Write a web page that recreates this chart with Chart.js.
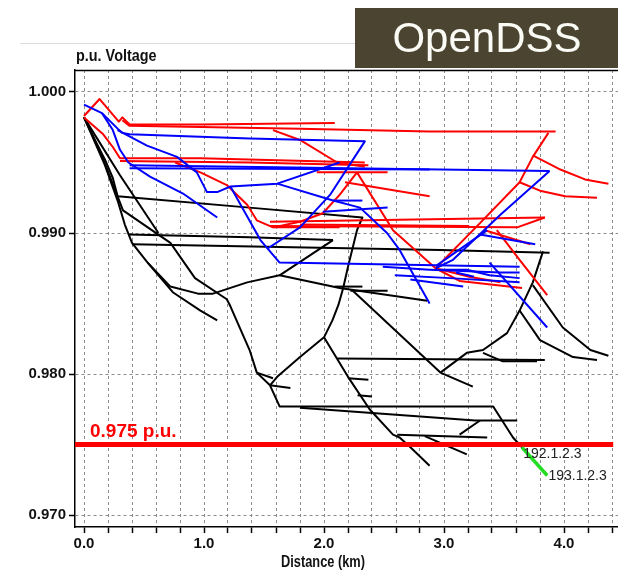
<!DOCTYPE html>
<html>
<head>
<meta charset="utf-8">
<script src="https://cdn.jsdelivr.net/npm/chart.js@4.4.0/dist/chart.umd.min.js"></script>
<style>
  html, body { margin: 0; padding: 0; background: #ffffff; }
  canvas { display: block; }
</style>
</head>
<body>
<canvas id="profile" width="618" height="570"></canvas>
<script>
// Feeder voltage profile: each section is a polyline of [distance km, voltage p.u.]

// Axis ranges and ticks
const xRange = [-0.075, 4.45];
const yRange = [0.96915, 1.00156];
const xTicks = [0, 0.2, 0.4, 0.6, 0.8, 1.0, 1.2, 1.4, 1.6, 1.8, 2.0, 2.2, 2.4, 2.6, 2.8, 3.0, 3.2, 3.4, 3.6, 3.8, 4.0, 4.2, 4.4];
const yTicks = [0.970, 0.980, 0.990, 1.000];

// Lower voltage limit
const limitValue = 0.975;
const limitSpan = [-0.075, 4.41];
const limitText = '0.975 p.u.';

// Phase 1 sections (black)
const phase1Sections = [
  [[0,0.9982],[0.09,0.9966],[0.175,0.9952],[0.24,0.9939],[0.28,0.9926],[1.38,0.9918],[2.32,0.9911],[2.275,0.9902],[2.20,0.9876],[2.16,0.9861],[2.12,0.9849],[2.07,0.9838],[2.00,0.9826]],
  [[2.00,0.9826],[1.80,0.9812],[1.61,0.9798],[1.55,0.9792]],
  [[2.00,0.9826],[2.20,0.9798],[2.38,0.9775],[2.575,0.9757],[2.63,0.9755],[2.72,0.9748],[2.88,0.9735]],
  [[0,0.9982],[0.13,0.9959],[0.325,0.9916],[0.72,0.9893],[0.925,0.9868],[1.19,0.9853],[1.22,0.9848],[1.38,0.9817],[1.44,0.9801],[1.55,0.9792],[1.63,0.9777],[3.41,0.9777],[3.575,0.9755],[3.65,0.9748]],
  [[0,0.9982],[0.30,0.9941],[0.62,0.9900]],
  [[0,0.9982],[0.175,0.9948],[0.28,0.9923],[0.34,0.9906],[0.40,0.9893],[0.53,0.9879],[0.72,0.9862],[0.95,0.9857],[1.075,0.9857],[1.36,0.9865],[1.63,0.9870],[2.075,0.9895]],
  [[0.53,0.9879],[0.74,0.9858],[0.97,0.9845],[1.11,0.9838]],
  [[0.37,0.9899],[1.38,0.9897],[2.075,0.9895]],
  [[0.40,0.9892],[2.97,0.9888],[3.88,0.9886]],
  [[1.63,0.9870],[2.13,0.9861],[2.86,0.9852]],
  [[2.24,0.9859],[2.97,0.9801],[3.24,0.9791]],
  [[2.09,0.9862],[2.32,0.9862]],
  [[2.22,0.9859],[2.53,0.9859]],
  [[2.11,0.9811],[3.84,0.9810]],
  [[2.97,0.9801],[3.19,0.9815],[3.325,0.9817],[3.525,0.9829],[3.63,0.9845],[3.74,0.9865],[3.825,0.9887]],
  [[3.74,0.9863],[3.99,0.9833],[4.22,0.9817],[4.37,0.9813]],
  [[3.63,0.9845],[3.80,0.9824],[4.075,0.9812],[4.275,0.9810]],
  [[3.325,0.9815],[3.49,0.9809],[3.775,0.9809]],
  [[2.20,0.9797],[2.37,0.9796]],
  [[2.28,0.9785],[2.40,0.9784]],
  [[1.44,0.9801],[1.575,0.9797]],
  [[1.55,0.9792],[1.72,0.9790]],
  [[1.80,0.9776],[3.26,0.9767],[3.61,0.9767]],
  [[2.61,0.9757],[3.36,0.9755]],
  [[3.13,0.9757],[3.30,0.9767]],
  [[2.84,0.9756],[3.19,0.9743]]
];

// Phase 2 sections (red)
const phase2Sections = [
  [[0,0.9983],[0.13,0.9995],[0.29,0.9979],[0.32,0.9982],[0.38,0.9977],[0.97,0.9977],[2.09,0.9978]],
  [[0.32,0.9980],[0.38,0.9976],[1.80,0.9974],[2.88,0.9972],[3.88,0.9972],[3.93,0.9972]],
  [[1.575,0.9973],[1.80,0.9966],[2.11,0.9950],[2.34,0.9947]],
  [[0,0.9982],[0.16,0.9970],[0.24,0.9961],[0.30,0.9953],[0.97,0.9953],[2.34,0.9950]],
  [[0.30,0.9951],[1.38,0.9950],[2.37,0.9948]],
  [[0.76,0.9950],[0.97,0.9943],[1.19,0.9934],[1.36,0.9920],[1.44,0.9909],[1.575,0.9904],[2.13,0.9904]],
  [[1.575,0.9904],[1.80,0.9908],[1.99,0.9914],[2.13,0.9927],[2.275,0.9943]],
  [[2.275,0.9943],[2.575,0.9902],[2.93,0.9875],[3.13,0.9866],[3.65,0.9861]],
  [[3.87,0.9971],[3.74,0.9954],[3.63,0.9936],[3.30,0.9907],[2.93,0.9875]],
  [[3.74,0.9955],[3.97,0.9945],[4.175,0.9938],[4.37,0.9935]],
  [[3.63,0.9936],[3.80,0.9930],[4.01,0.9926],[4.275,0.9925]],
  [[2.175,0.9936],[2.88,0.9926]],
  [[1.94,0.9943],[2.53,0.9943]],
  [[1.55,0.9908],[3.84,0.9911]],
  [[1.55,0.9905],[3.61,0.9904],[3.84,0.9911]],
  [[1.80,0.9906],[3.21,0.9905]],
  [[3.34,0.9902],[3.72,0.9892]],
  [[3.44,0.9902],[3.63,0.9881],[3.86,0.9856]],
  [[2.93,0.9875],[3.21,0.9869],[3.47,0.9865]]
];

// Phase 3 sections (blue)
const phase3Sections = [
  [[0,0.9991],[0.15,0.9985],[0.28,0.9974],[0.32,0.9971],[0.38,0.9970],[1.38,0.9967],[2.34,0.9965],[2.05,0.9927],[1.80,0.9904],[1.53,0.9889]],
  [[0.15,0.9985],[0.24,0.9973],[0.30,0.9959],[0.37,0.9950],[0.55,0.9940],[0.825,0.9928],[1.11,0.9911]],
  [[0.28,0.9973],[0.525,0.9962],[0.775,0.9954],[0.94,0.9943],[1.025,0.9929],[1.11,0.9929],[1.22,0.9933],[1.61,0.9935],[2.13,0.9950]],
  [[1.61,0.9935],[2.075,0.9923],[2.30,0.9918],[2.525,0.9900],[2.63,0.9888],[2.88,0.9850]],
  [[1.22,0.9933],[1.47,0.9895],[1.63,0.9879],[3.63,0.9876]],
  [[0.38,0.9948],[3.88,0.9944]],
  [[0.38,0.9946],[2.88,0.9945]],
  [[3.88,0.9944],[3.47,0.9913],[3.075,0.9881],[2.93,0.9875]],
  [[1.99,0.9915],[2.53,0.9918]],
  [[2.075,0.9923],[2.32,0.9923]],
  [[2.49,0.9876],[2.88,0.9874],[3.47,0.9872],[3.63,0.9872]],
  [[2.59,0.9870],[3.05,0.9868],[3.63,0.9865]],
  [[2.72,0.9867],[3.16,0.9862]],
  [[2.97,0.9874],[3.19,0.9874],[3.38,0.9870],[3.63,0.9868]],
  [[3.10,0.9872],[3.25,0.9869]],
  [[3.36,0.9902],[2.94,0.9877]],
  [[3.30,0.9899],[3.76,0.9892]],
  [[3.38,0.9879],[3.86,0.9833]]
];

// Highlighted section and its bus names
const highlightSection = [[3.65,0.9748],[3.86,0.9728]];
const busNames = ['192.1.2.3', '193.1.2.3'];
const busPoints = [[3.66,0.97435],[3.87,0.97275]];

const sansFamily = "'Liberation Sans', Arial, sans-serif";

function section(points, color, width, order) {
  return {
    data: points.map(p => ({ x: p[0], y: p[1] })),
    borderColor: color,
    backgroundColor: color,
    borderWidth: width,
    borderJoinStyle: 'round',
    showLine: true,
    pointRadius: 0,
    fill: false,
    order: order
  };
}

const datasets = [];
phase1Sections.forEach(s => datasets.push(section(s, '#000000', 2, 5)));
phase2Sections.forEach(s => datasets.push(section(s, '#ff0000', 2, 4)));
phase3Sections.forEach(s => datasets.push(section(s, '#0000ff', 2, 3)));
datasets.push(section([[limitSpan[0], limitValue], [limitSpan[1], limitValue]], '#ff0000', 5, 2));
datasets.push(section(highlightSection, '#22dd22', 3.5, 1));

// text squeezed horizontally, like a narrow face
function narrowText(ctx, text, x, y, squeeze, align) {
  ctx.save();
  ctx.translate(x, y);
  ctx.scale(squeeze, 1);
  ctx.textAlign = align;
  ctx.fillText(text, 0, 0);
  ctx.restore();
}

const decorations = {
  id: 'decorations',
  beforeDraw(chart) {
    const ctx = chart.ctx;
    ctx.save();
    ctx.fillStyle = '#ffffff';
    ctx.fillRect(0, 0, chart.width, chart.height);
    // thin rule under the header
    ctx.strokeStyle = '#dcdcdc';
    ctx.lineWidth = 1;
    ctx.beginPath();
    ctx.moveTo(20, 43.5);
    ctx.lineTo(355, 43.5);
    ctx.stroke();
    // header badge
    ctx.fillStyle = '#4b4430';
    ctx.fillRect(355, 8, 263, 60);
    ctx.fillStyle = '#fbfbf6';
    ctx.font = '42px ' + sansFamily;
    ctx.textAlign = 'center';
    ctx.textBaseline = 'middle';
    ctx.fillText('OpenDSS', 487, 40);
    ctx.restore();
  },
  afterDraw(chart) {
    const ctx = chart.ctx;
    const area = chart.chartArea;
    const xs = chart.scales.x;
    const ys = chart.scales.y;
    ctx.save();
    // top edge of the plot frame
    ctx.strokeStyle = '#000000';
    ctx.lineWidth = 1.5;
    ctx.beginPath();
    ctx.moveTo(area.left, area.top + 0.5);
    ctx.lineTo(area.right, area.top + 0.5);
    ctx.stroke();
    // axis titles
    ctx.fillStyle = '#111111';
    ctx.textBaseline = 'middle';
    ctx.font = 'bold 16px ' + sansFamily;
    narrowText(ctx, 'p.u. Voltage', area.left + 1, 57, 0.9, 'left');
    ctx.font = 'bold 16px ' + sansFamily;
    narrowText(ctx, 'Distance (km)', 323, 563, 0.8, 'center');
    // limit label
    const yLim = ys.getPixelForValue(limitValue);
    ctx.fillStyle = '#ff0000';
    ctx.font = 'bold 19px ' + sansFamily;
    ctx.textAlign = 'left';
    ctx.textBaseline = 'alphabetic';
    ctx.fillText(limitText, xs.getPixelForValue(0.05), yLim - 8);
    // bus names at the ends of the highlighted section
    ctx.fillStyle = '#222222';
    ctx.font = '14px ' + sansFamily;
    ctx.textBaseline = 'middle';
    busNames.forEach((name, i) => {
      ctx.fillText(name, xs.getPixelForValue(busPoints[i][0]), ys.getPixelForValue(busPoints[i][1]));
    });
    ctx.restore();
  }
};

new Chart(document.getElementById('profile'), {
  type: 'scatter',
  data: { datasets: datasets },
  plugins: [decorations],
  options: {
    responsive: false,
    animation: false,
    devicePixelRatio: 1,
    layout: { padding: { top: 70, left: 0, right: 0, bottom: 0 } },
    plugins: { legend: { display: false }, tooltip: { enabled: false } },
    elements: { point: { radius: 0 }, line: { tension: 0 } },
    scales: {
      x: {
        type: 'linear',
        min: xRange[0],
        max: xRange[1],
        afterBuildTicks: s => { s.ticks = xTicks.map(v => ({ value: v })); },
        afterFit: s => { s.height = 43; },
        ticks: {
          autoSkip: false,
          maxRotation: 0,
          padding: 2,
          color: '#111111',
          font: { family: sansFamily, size: 15, weight: 'bold' },
          callback: v => (Math.abs(v - Math.round(v)) < 1e-6 ? Number(v).toFixed(1) : '')
        },
        grid: { color: '#8c8c8c', lineWidth: 1, tickLength: 6, tickColor: '#000000', tickWidth: 1.5 },
        border: { display: true, color: '#000000', width: 1.5, dash: [3, 3] }
      },
      y: {
        type: 'linear',
        min: yRange[0],
        max: yRange[1],
        afterBuildTicks: s => { s.ticks = yTicks.map(v => ({ value: v })); },
        afterFit: s => { s.width = 75; },
        ticks: {
          padding: 3,
          color: '#111111',
          font: { family: sansFamily, size: 15, weight: 'bold' },
          callback: v => Number(v).toFixed(3)
        },
        grid: { color: '#8c8c8c', lineWidth: 1, tickLength: 6, tickColor: '#000000', tickWidth: 1.5 },
        border: { display: true, color: '#000000', width: 1.5, dash: [3, 3] }
      }
    }
  }
});
</script>
</body>
</html>
